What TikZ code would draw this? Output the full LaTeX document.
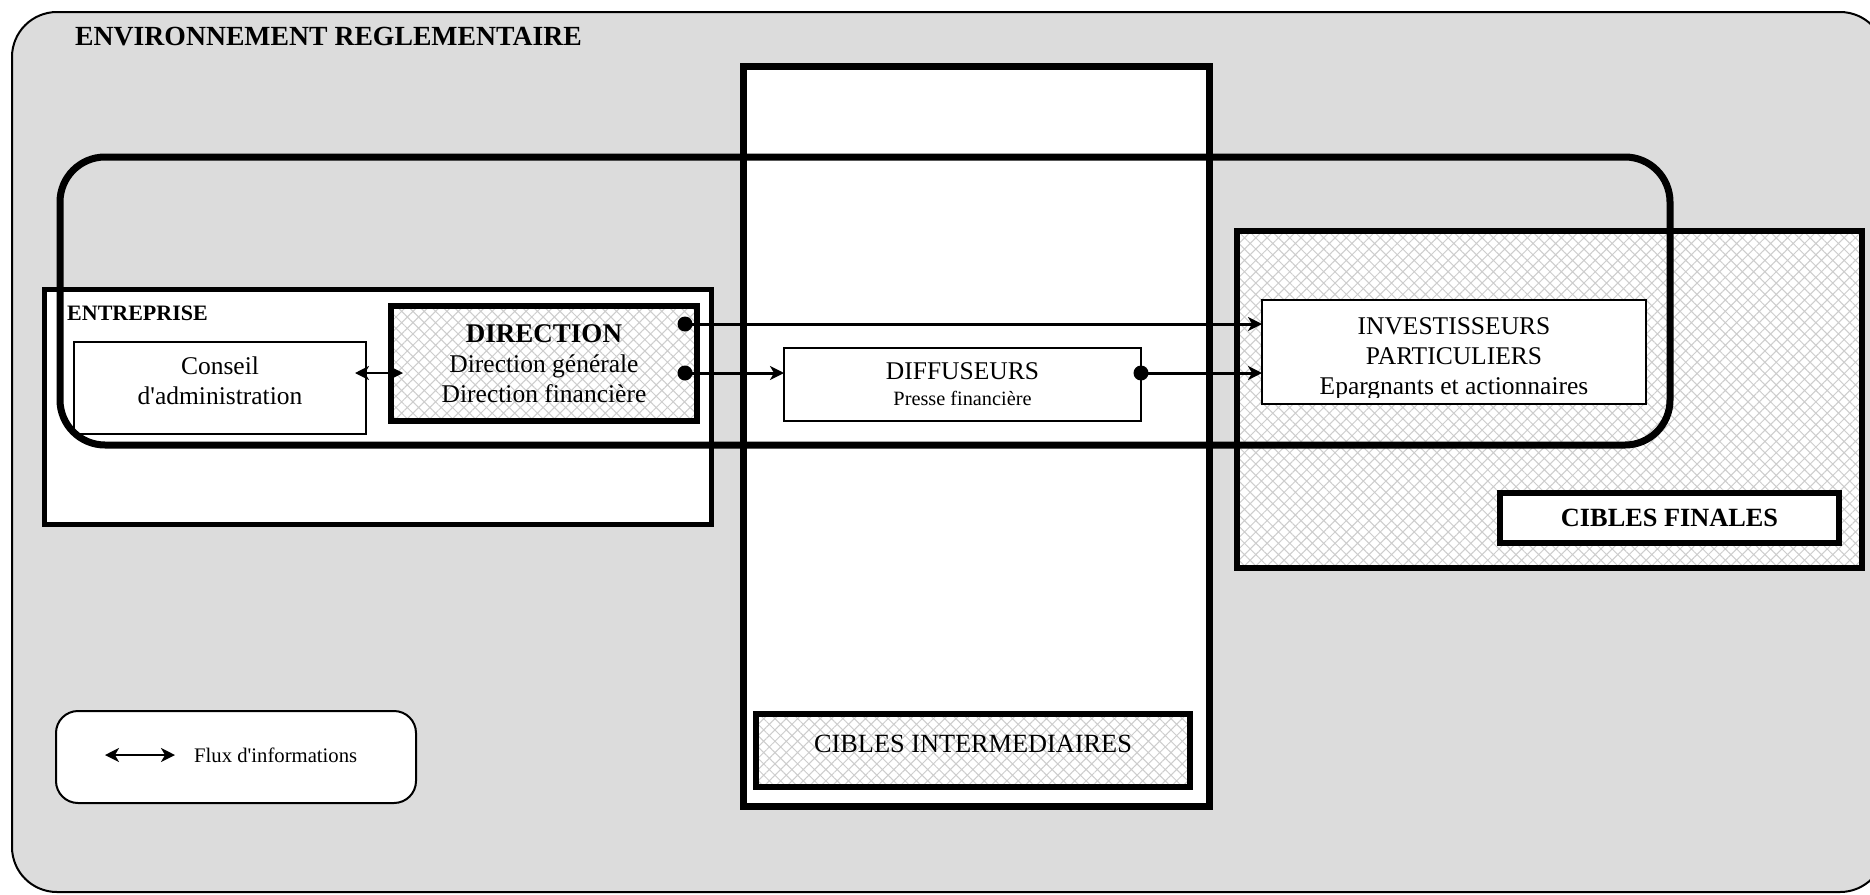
\documentclass[tikz,border=0pt]{standalone}
\usepackage{fontspec}
\setmainfont{Liberation Serif}
\usetikzlibrary{
	arrows.meta		% Stealth style arrow tips
	, patterns.meta	% Hatch pattern for the shaded boxes
}
\definecolor{fondgris}{RGB}{220,220,220}
\definecolor{grishachure}{RGB}{205,205,205}

\begin{document}
\begin{tikzpicture}[x=1pt, y=-1pt, >={Stealth[length=14pt, width=14pt, inset=4pt]}]
	\useasboundingbox (0,0) rectangle (1870,894);
	\begin{scope}[
		cadre/.style={draw=black, fill=white, inner sep=0, outer sep=0},
		fin/.style={cadre, line width=1.5pt},
		gras/.style={cadre, line width=6pt},
		hach/.style={draw=black, inner sep=0, outer sep=0, line width=6pt,
			preaction={fill=white},
			pattern={Hatch[angle=45, distance=8pt, line width=1pt]}, pattern color=grishachure},
		texte/.style={inner sep=0, align=center, font=\fontsize{25.5}{30}\selectfont},
		fleche/.style={line width=3pt, ->}]

		%% Environnement
		\node[draw=black, fill=fondgris, line width=2pt, rounded corners=45pt, minimum width=1873pt, minimum height=880pt] (environnement) at (948.5,452) {};
		\node[anchor=base west, inner sep=0, font=\bfseries\fontsize{27.7}{30}\selectfont] (titre) at (75,45) {ENVIRONNEMENT REGLEMENTAIRE};

		%% Entreprise
		\node[gras, line width=5pt, minimum width=667pt, minimum height=235pt] (entreprise) at (377.5,406.5) {};
		\node[anchor=base west, inner sep=0, font=\bfseries\fontsize{22}{26}\selectfont] (entreprise-titre) at (67,320) {ENTREPRISE};
		\node[fin, minimum width=292pt, minimum height=92pt] (conseil) at (220,388) {};
		\node[texte, yshift=7pt] (conseil-texte) at (conseil) {Conseil\\d\textquotesingle administration};
		\node[hach, minimum width=306pt, minimum height=115pt] (direction) at (544,363.5) {};
		\node[texte] (direction-texte) at (direction) {{\bfseries\fontsize{27}{30}\selectfont DIRECTION}\\Direction générale\\Direction financière};

		%% Cibles intermediaires
		\node[gras, line width=7pt, minimum width=466pt, minimum height=740pt] (intermediaires) at (976,436) {};
		\node[fin, line width=2pt, minimum width=357pt, minimum height=73pt] (diffuseurs) at (962.5,384.5) {};
		\node[texte] (diffuseurs-texte) at (diffuseurs) {DIFFUSEURS\\[-4pt]{\fontsize{20.3}{24}\selectfont Presse financière}};
		\node[hach, minimum width=434pt, minimum height=73pt] (ciblesinter) at (973,750.5) {};
		\node[texte, yshift=7pt, font=\fontsize{26.3}{30}\selectfont] (ciblesinter-texte) at (ciblesinter) {CIBLES INTERMEDIAIRES};

		%% Cibles finales
		\node[hach, minimum width=625pt, minimum height=337pt] (finales) at (1549.5,399.5) {};
		\node[fin, minimum width=384pt, minimum height=104pt] (investisseurs) at (1454,352) {};
		\begin{scope}
			\clip (investisseurs.north west) rectangle ([yshift=6.5pt]investisseurs.south east);
			\node[texte, anchor=north] (investisseurs-texte) at (1454,317) {INVESTISSEURS\\PARTICULIERS\\Epargnants et actionnaires};
		\end{scope}
		\node[gras, minimum width=339pt, minimum height=50pt, font=\bfseries\fontsize{26.3}{30}\selectfont] (ciblesfinales) at (1669.5,518) {CIBLES FINALES};

		% Flux d'informations
		\coordinate (dirhaut) at (685,324);
		\coordinate (dirbas) at (685,373);
		\coordinate (diffdroite) at (diffuseurs.east |- dirbas);
		\draw[fleche] (dirhaut) -- (dirhaut -| investisseurs.west);
		\draw[fleche] (dirbas) -- (dirbas -| diffuseurs.west);
		\draw[fleche] (diffdroite) -- (diffdroite -| investisseurs.west);
		\foreach \p in {dirhaut, dirbas, diffdroite} {
			\fill (\p) circle (7.5pt);
		}
		\draw[line width=2pt, <->, shorten <=-11pt, shorten >=-12pt] (conseil.east |- dirbas) -- (direction.west |- dirbas);

		% Legende
		\node[draw=black, fill=white, line width=2pt, rounded corners=22pt, minimum width=360pt, minimum height=92pt, inner sep=0] (legende) at (236,757) {};
		\node[anchor=west, inner sep=0, font=\fontsize{20.7}{24}\selectfont] (legende-texte) at (194,755) {Flux d\textquotesingle informations};
		\coordinate (legendegauche) at (105,755);
		\coordinate (legendedroite) at (175,755);
		\draw[line width=2pt, <->] (legendegauche) -- (legendedroite);

		%% Cercle autour des flux
		\node[draw=black, line width=7pt, rounded corners=45pt, minimum width=1610pt, minimum height=288pt, inner sep=0] (cercle) at (865,301) {};
	\end{scope}
\end{tikzpicture}
\end{document}
